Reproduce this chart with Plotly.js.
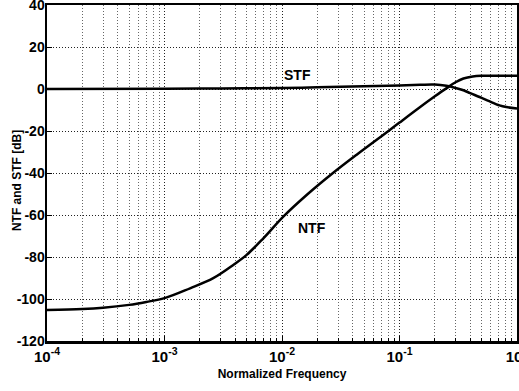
<!DOCTYPE html>
<html>
<head>
<meta charset="utf-8">
<script src="https://cdn.plot.ly/plotly-3.0.1.min.js"></script>
<style>html,body{margin:0;padding:0;background:#fff;overflow:hidden;}#chart{width:519px;height:391px;}</style>
</head>
<body>
<div id="chart"></div>
<script>
// Normalized frequency samples
var ntfFreq = [1e-4, 2e-4, 3e-4, 5e-4, 7e-4, 1e-3, 1.65e-3, 2.6e-3, 3.85e-3, 5e-3, 6.94e-3, 1.026e-2, 1.62e-2, 2.65e-2, 4.32e-2, 8.06e-2, 0.1, 0.149, 0.2, 0.25, 0.3, 0.35, 0.42, 0.5, 0.7, 1.0];
var ntfDb   = [-105.2, -104.8, -104.2, -102.8, -101.4, -99.6, -94.9, -90.1, -83.8, -79.0, -71.1, -60.8, -50.5, -40.5, -31.3, -20.0, -16.0, -8.7, -3.5, 0.3, 3.2, 5.0, 6.0, 6.3, 6.3, 6.3];

var stfFreq = [1e-4, 1e-3, 3e-3, 1e-2, 2e-2, 5e-2, 0.1, 0.15, 0.2, 0.25, 0.3, 0.35, 0.4, 0.48, 0.58, 0.71, 0.81, 1.0];
var stfDb   = [0.0, 0.1, 0.25, 0.5, 0.8, 1.3, 1.7, 2.0, 2.1, 1.5, 0.5, -0.6, -2.0, -3.8, -5.8, -7.8, -8.6, -9.3];

var xTickVals = [1e-4, 1e-3, 1e-2, 1e-1, 1];
var xTickText = ['10<sup>-4</sup>', '10<sup>-3</sup>', '10<sup>-2</sup>', '10<sup>-1</sup>', '10<sup>0</sup>'];
var yTickVals = [-120, -100, -80, -60, -40, -20, 0, 20, 40];
var yTickText = ['-120', '-100', '-80', '-60', '-40', '-20', '0', '20', '40'];

var FONT = 'Liberation Sans, Arial, sans-serif';

var traces = [
  {x: ntfFreq, y: ntfDb, mode: 'lines', name: 'NTF',
   line: {color: '#000', width: 2.5, shape: 'spline', smoothing: 1}, hoverinfo: 'skip'},
  {x: stfFreq, y: stfDb, mode: 'lines', name: 'STF',
   line: {color: '#000', width: 2.5, shape: 'spline', smoothing: 1}, hoverinfo: 'skip'}
];

var layout = {
  width: 519, height: 391,
  margin: {l: 47, r: 2, t: 5, b: 50},
  paper_bgcolor: '#fff', plot_bgcolor: '#fff',
  showlegend: false,
  font: {family: FONT, color: '#000', size: 13, weight: 'bold'},
  xaxis: {
    type: 'log', range: [-4, 0],
    tickmode: 'array', tickvals: xTickVals, ticktext: xTickText,
    tickfont: {family: FONT, size: 15, weight: 'bold', color: '#000'},
    ticklabeloverflow: 'allow',
    ticks: 'inside', ticklen: 5, tickwidth: 1, tickcolor: '#000',
    showline: true, linecolor: '#000', linewidth: 2.5, mirror: true,
    showgrid: true, gridcolor: '#222', gridwidth: 1, griddash: '1px,2px',
    minor: {ticks: 'inside', ticklen: 3, tickcolor: '#000', showgrid: true, gridcolor: '#666', gridwidth: 1, griddash: '1px,2px', dtick: 'D1'},
    zeroline: false,
    title: {text: 'Normalized Frequency', font: {family: FONT, size: 12, weight: 'bold', color: '#000'}, standoff: 6},
    automargin: false
  },
  yaxis: {
    range: [-120, 40],
    tickmode: 'array', tickvals: yTickVals, ticktext: yTickText,
    tickfont: {family: FONT, size: 14, weight: 'bold', color: '#000'},
    ticklabeloverflow: 'allow',
    ticklabelstandoff: -3,
    ticks: 'inside', ticklen: 5, tickwidth: 1, tickcolor: '#000',
    showline: true, linecolor: '#000', linewidth: 2.5, mirror: true,
    showgrid: true, gridcolor: '#222', gridwidth: 1, griddash: '1px,2px',
    zeroline: false,
    automargin: false
  },
  annotations: [
    {text: 'STF', x: -1.872, y: 6.7, xref: 'x', yref: 'y', showarrow: false,
     font: {family: FONT, size: 14, weight: 'bold', color: '#000'}},
    {text: 'NTF', x: -1.745, y: -66.2, xref: 'x', yref: 'y', showarrow: false,
     font: {family: FONT, size: 14, weight: 'bold', color: '#000'}},
    {text: 'NTF and STF [dB]', xref: 'paper', yref: 'paper', x: 0, y: 0.476,
     xshift: -30, textangle: -90, showarrow: false, xanchor: 'center', yanchor: 'middle',
     font: {family: FONT, size: 12, weight: 'bold', color: '#000'}}
  ]
};

Plotly.newPlot('chart', traces, layout, {displayModeBar: false, staticPlot: true});
</script>
</body>
</html>
